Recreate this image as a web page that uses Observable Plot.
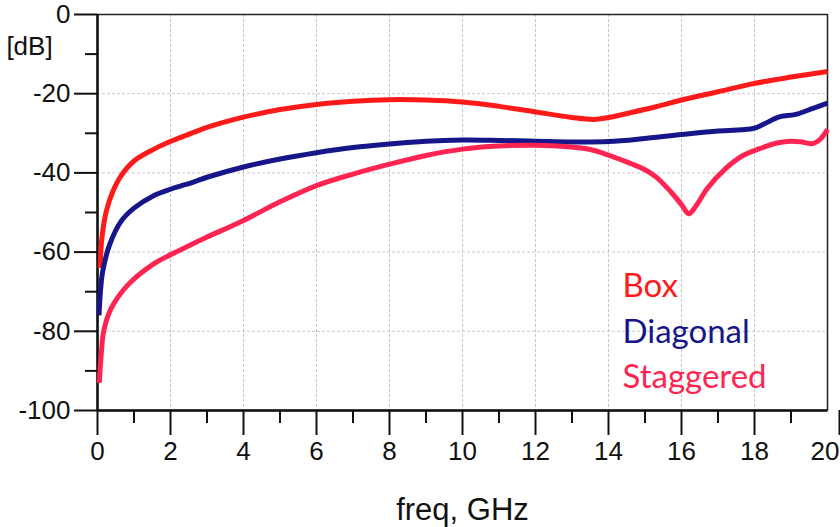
<!DOCTYPE html>
<html><head><meta charset="utf-8">
<script src="https://cdn.jsdelivr.net/npm/d3@7"></script>
<script src="https://cdn.jsdelivr.net/npm/@observablehq/plot@0.6"></script>
<style>
html,body{margin:0;padding:0;background:#fff;overflow:hidden;}
</style>
</head><body><div id="chart"></div>
<script>
// ---- data ----
const seriesNames = ["Box", "Diagonal", "Staggered"];
const seriesColors = ["#ff1a1a", "#16168a", "#ff2452"];

const boxFreq = [0.07,0.12,0.24,0.42,0.64,1.0,1.55,2.04,2.6,3.0,3.5,4.0,5.0,6.0,7.0,8.0,9.0,10.0,11.0,12.0,13.0,13.6,14.0,14.6,15.3,16.0,17.0,18.0,19.0,20.0];
const boxDb   = [-64,-56.5,-49.7,-44.7,-40.8,-37,-34,-31.9,-29.9,-28.5,-27.1,-25.9,-24,-22.7,-21.9,-21.5,-21.6,-22.1,-23.2,-24.6,-26,-26.5,-26,-24.8,-23.3,-21.6,-19.5,-17.4,-15.8,-14.4];

const diagFreq = [0.04,0.08,0.14,0.33,0.64,1.0,1.55,2.04,2.63,3.0,4.0,5.0,6.0,7.0,8.0,9.0,10.0,11.0,12.0,13.0,14.0,15.0,16.0,17.0,17.8,18.0,18.25,18.7,19.1,19.6,20.0];
const diagDb   = [-76,-70,-65,-58.2,-52.3,-48.9,-45.7,-44,-42.3,-41.1,-38.5,-36.5,-34.9,-33.6,-32.7,-32,-31.7,-31.8,-32,-32.2,-32.1,-31.3,-30.3,-29.4,-29,-28.7,-27.7,-25.8,-25.3,-23.7,-22.4];

const stagFreq = [0.05,0.1,0.17,0.37,0.82,1.55,2.04,2.63,3.0,4.0,5.0,6.0,7.0,8.0,9.0,10.0,11.0,12.0,12.9,13.5,14.0,14.6,15.0,15.3,15.7,16.0,16.2,16.4,16.7,17.2,17.65,18.1,18.65,19.0,19.3,19.6,19.8,20.0];
const stagDb   = [-93,-86,-80,-74.3,-68.4,-62.9,-60.5,-57.8,-56.2,-52,-47.3,-43.2,-40.3,-37.8,-35.6,-34,-33.2,-33,-33.4,-34.1,-35.5,-37.6,-39.2,-41,-44.7,-48,-50.3,-48.3,-44,-39,-35.8,-34,-32.4,-32,-32.2,-32.6,-31.5,-29];

const xMajorTicks = [0,2,4,6,8,10,12,14,16,18];
const xEdgeTick = [20];
const xMinorTicks = [1,3,5,7,9,11,13,15,17,19];
const yMajorTicks = [0,-20,-40,-60,-80,-100];
const yMinorTicks = [-10,-30,-50,-70,-90];
const xLabel = "freq, GHz";
const yLabel = "[dB]";

// ---- build table ----
const freqs = [boxFreq, diagFreq, stagFreq];
const dbs = [boxDb, diagDb, stagDb];
const rows = seriesNames.flatMap((name, s) => freqs[s].map((f, i) => ({series: name, freq: f, db: dbs[s][i]})));

const tickFont = "'Liberation Sans', Arial, sans-serif";
const legendFont = "Lato, 'Open Sans', sans-serif";
const legendDy = [272, 318, 363];
const xAxisStyle = {tickSize: 25, tickPadding: 6, fontSize: 26, strokeWidth: 2, stroke: "#111", fill: "#111", tickFormat: d => String(d), label: null};

const chart = Plot.plot({
  width: 840,
  height: 527,
  marginLeft: 97,
  marginRight: 13,
  marginTop: 14,
  marginBottom: 117,
  style: {fontFamily: tickFont, background: "#fff", color: "#111", overflow: "visible"},
  x: {domain: [0, 20]},
  y: {domain: [-100, 0]},
  color: {domain: seriesNames, range: seriesColors},
  marks: [
    Plot.gridX(xMajorTicks.slice(1), {stroke: "#c4c4c4", strokeOpacity: 1, strokeWidth: 1, strokeDasharray: "3,2"}),
    Plot.gridY(yMajorTicks.slice(1, -1), {stroke: "#d2c4c8", strokeOpacity: 1, strokeWidth: 1, strokeDasharray: "3,2"}),
    Plot.axisX(xMajorTicks, xAxisStyle),
    Plot.axisX(xEdgeTick, {...xAxisStyle, textAnchor: "end", dx: 12}),
    Plot.axisX(xMinorTicks, {tickSize: 13, strokeWidth: 2, stroke: "#111", tickFormat: () => "", label: null}),
    Plot.axisY(yMajorTicks, {tickSize: 23, tickPadding: 4, fontSize: 26, strokeWidth: 2, stroke: "#111", fill: "#111", tickFormat: d => String(d), label: null}),
    Plot.axisY(yMinorTicks, {tickSize: 12, strokeWidth: 2, stroke: "#111", tickFormat: () => "", label: null}),
    Plot.frame({stroke: "#222", strokeWidth: 1.5}),
    Plot.ruleX([0], {stroke: "#111", strokeWidth: 2.5}),
    Plot.ruleY([-100], {stroke: "#111", strokeWidth: 2.5}),
    Plot.line(rows, {x: "freq", y: "db", z: "series", stroke: "series", strokeWidth: 5, curve: "catmull-rom", strokeLinecap: "butt"}),
    Plot.text([yLabel], {text: d => d, frameAnchor: "top-left", dx: -68, dy: 32, fontSize: 26, textAnchor: "middle", lineAnchor: "middle", fill: "#111"}),
    Plot.text([xLabel], {text: d => d, frameAnchor: "bottom", dy: 100, fontSize: 31, textAnchor: "middle", lineAnchor: "middle", fill: "#111"}),
    ...seriesNames.map((name, i) =>
      Plot.text([name], {text: d => d, frameAnchor: "top-left", dx: 525, dy: legendDy[i], fontSize: 33, fontFamily: legendFont, textAnchor: "start", lineAnchor: "middle", fill: seriesColors[i]})
    )
  ]
});
document.getElementById("chart").appendChild(chart);
</script>
</body></html>
